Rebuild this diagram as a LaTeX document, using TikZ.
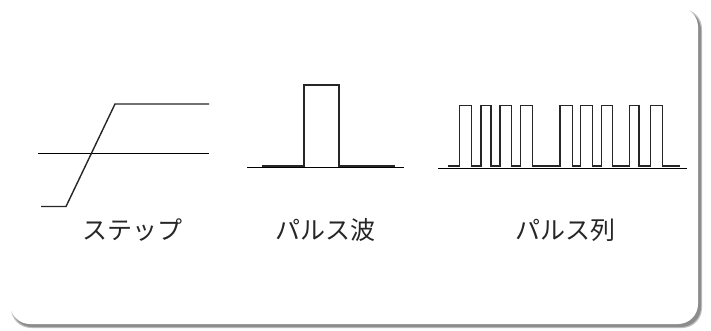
\documentclass[tikz,border=0pt]{standalone}
\usepackage{fontspec}
\newfontfamily\cjk{Noto Sans CJK JP}
\begin{document}
\begin{tikzpicture}[x=1pt,y=-1pt,
  thinline/.style={line width=0.7pt,black},
  thickline/.style={line width=1.4pt,black!85},
  pulseline/.style={line width=2pt,black!85},
  trainline/.style={line width=1.2pt,black!85},
  label/.style={font=\cjk\fontsize{25}{25}\selectfont,text=black!85,inner sep=0pt}]
\useasboundingbox (0,0) rectangle (711,331);
% card with shadow
\fill[black!25,rounded corners=20pt] (11,9) rectangle (702,328);
\fill[black!45,rounded corners=20pt] (12,10) rectangle (701,327);
\fill[white,rounded corners=20pt] (10,7) rectangle (698,324);
% step
\draw[thinline] (38,153.5) -- (209,153.5);
\draw[thickline,line join=miter] (41,206.5) -- (66,206.5) -- (115,104) -- (209,104);
% pulse
\draw[thinline] (247,167) -- (404,167);
\draw[pulseline,line join=miter] (262,166) -- (304,166) -- (304,85) -- (339,85) -- (339,166) -- (395,166);
% pulse train
\draw[thinline] (438,168.5) -- (687,168.5);
\draw[trainline,line join=miter] (448,166)
  \foreach \a/\b in {459.3/471.7,481/491,500/511.7,520.7/532.3,560/572.7,580.7/592.7,601.7/612.7,629.3/639,650.7/662.7}
  { -- (\a,166) -- (\a,105.7) -- (\b,105.7) -- (\b,166) } -- (680,166);
% labels
\node[label] (lstep) at (132,230) {ステップ};
\node[label] (lpulse) at (325,230) {パルス波};
\node[label] (ltrain) at (565,230) {パルス列};
\end{tikzpicture}
\end{document}
